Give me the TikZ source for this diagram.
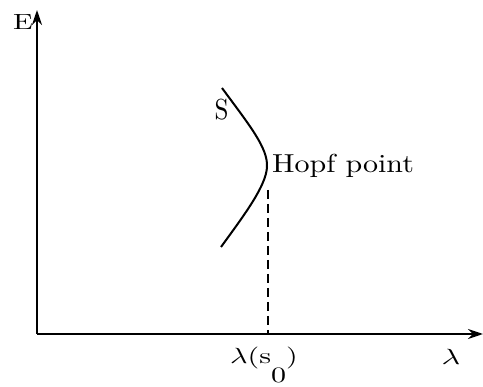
\documentclass[tikz,border=0pt]{standalone}
\usepackage{graphicx}
\usetikzlibrary{arrows.meta}
\begin{document}
\begin{tikzpicture}[x=1pt,y=-1pt,
  axis/.style={line width=2pt,-{Stealth[length=15pt,width=10pt]}},
  curve/.style={line width=2pt},
  guide/.style={line width=1.4pt,dash pattern=on 9pt off 5pt},
  lbl/.style={inner sep=0pt,font=\fontsize{10}{12}\selectfont}]
\useasboundingbox (0,0) rectangle (483,387);
\coordinate (O) at (37,334);
\coordinate (Ytop) at (37,10);
\coordinate (Xend) at (483,334);
\coordinate (Ctop) at (222,88);
\coordinate (Cnose) at (267,167);
\coordinate (Cbot) at (221,247);
\coordinate (H) at (268,190);
\coordinate (Hbase) at (268,334);
\draw[axis] (O) -- (Ytop);
\draw[axis] (O) -- (Xend);
\draw[curve] (Ctop) .. controls (250,126) and (268,148) .. (Cnose) .. controls (266,186) and (245,214) .. (Cbot);
\draw[guide] (H) -- (Hbase);
\node[lbl,anchor=base west] (hopf) at (272,173) {\scalebox{3.0}[2.6]{Hopf point}};
\node[lbl,anchor=base] (S) at (221.5,120) {\scalebox{2.5}[2.9]{S}};
\node[lbl,anchor=base] (E) at (23,30) {\scalebox{2.9}[2.2]{E}};
\node[lbl,anchor=base] (ls) at (264,364) {\scalebox{3.0}[2.2]{$\lambda$(s\raisebox{-8.5pt}{0})}};
\node[lbl,anchor=base] (l) at (451,365) {\scalebox{3.2}[2.2]{$\lambda$}};
\end{tikzpicture}
\end{document}
